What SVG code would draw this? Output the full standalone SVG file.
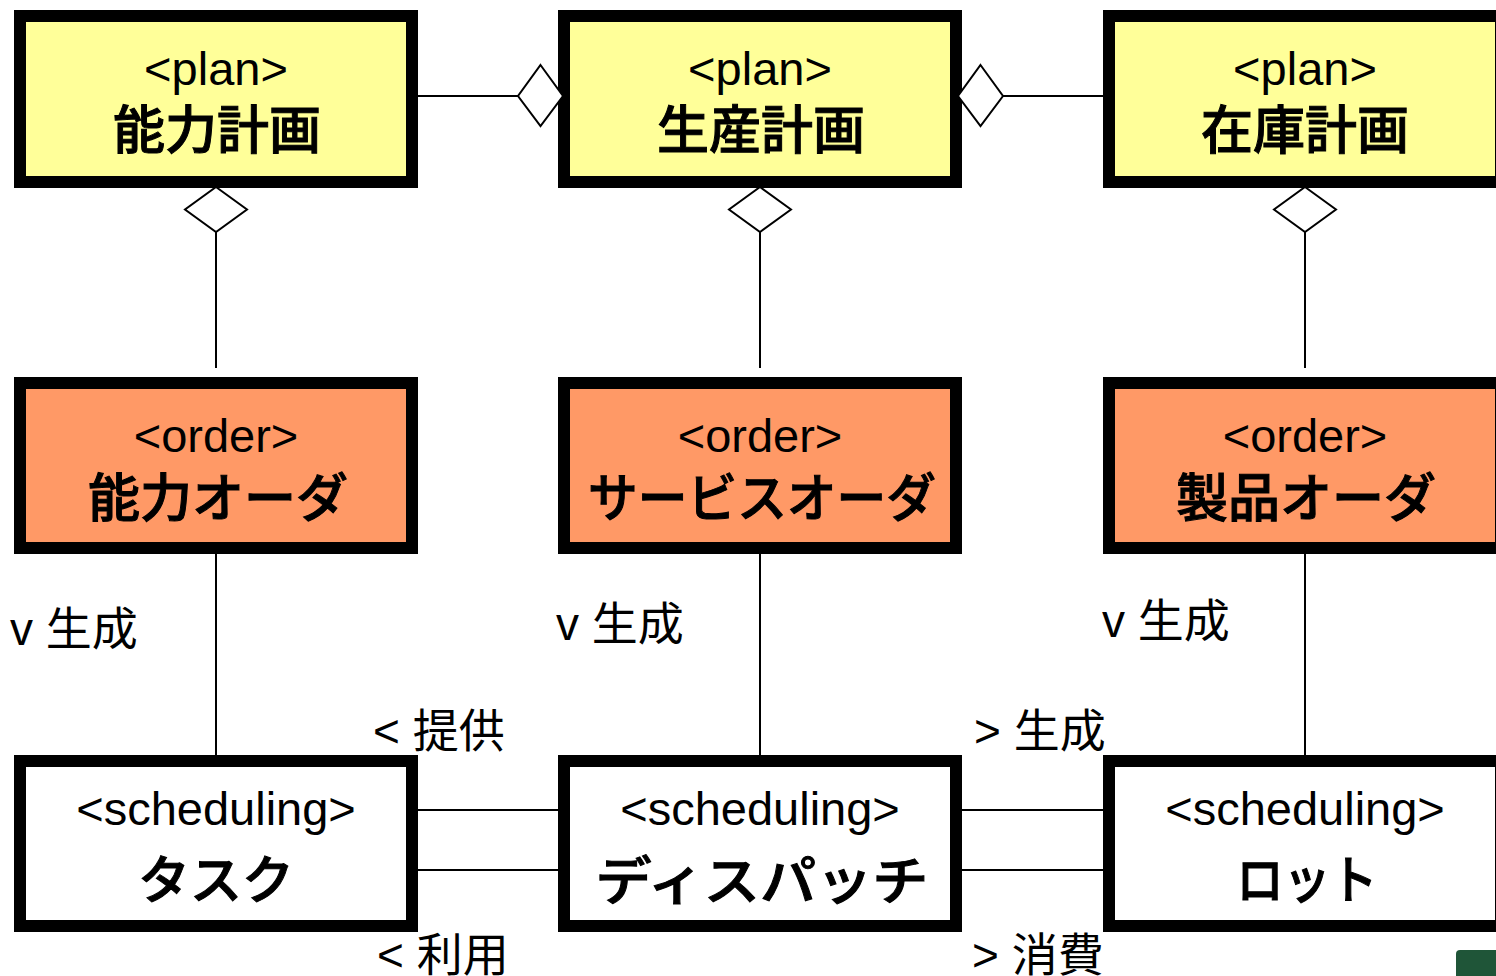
<svg xmlns="http://www.w3.org/2000/svg" width="1496" height="976" viewBox="0 0 1496 976">
<style>
.box{stroke:#000;stroke-width:12}
.plan{fill:#FFFF99}
.order{fill:#FF9966}
.sched{fill:#FFFFFF}
.st{font-family:"Liberation Sans","Noto Sans CJK JP",sans-serif;font-size:47px;fill:#000;text-anchor:middle}
.tt{font-family:"Noto Sans CJK JP","Liberation Sans",sans-serif;font-size:52px;font-weight:500;fill:#000;stroke:#000;stroke-width:1;text-anchor:middle}
.lb{font-family:"Liberation Sans","Noto Sans CJK JP",sans-serif;font-size:46px;fill:#000}
.ln{stroke:#000;stroke-width:2;fill:none}
.dm{stroke:#000;stroke-width:2;fill:#fff}
</style>
<g id="connectors">
<line class="ln" x1="418" y1="96" x2="519" y2="96"/>
<line class="ln" x1="1003" y1="96" x2="1104" y2="96"/>
<line class="ln" x1="216" y1="232" x2="216" y2="368"/>
<line class="ln" x1="760" y1="232" x2="760" y2="368"/>
<line class="ln" x1="1305" y1="232" x2="1305" y2="368"/>
<line class="ln" x1="216" y1="554" x2="216" y2="755"/>
<line class="ln" x1="760" y1="554" x2="760" y2="755"/>
<line class="ln" x1="1305" y1="554" x2="1305" y2="755"/>
<line class="ln" x1="418" y1="810" x2="559" y2="810"/>
<line class="ln" x1="418" y1="870" x2="559" y2="870"/>
<line class="ln" x1="962" y1="810" x2="1104" y2="810"/>
<line class="ln" x1="962" y1="870" x2="1104" y2="870"/>
<text class="lb" x="10" y="645">v 生成</text>
<text class="lb" x="556" y="640">v 生成</text>
<text class="lb" x="1102" y="637">v 生成</text>
<text class="lb" x="373" y="747">&lt; 提供</text>
<text class="lb" x="377" y="971">&lt; 利用</text>
<text class="lb" x="974" y="747">&gt; 生成</text>
<text class="lb" x="972" y="971">&gt; 消費</text>
</g>
<g id="node-nouryoku-keikaku">
<rect class="box plan" x="20" y="16" width="392" height="166"/>
<text class="st" x="216" y="85">&lt;plan&gt;</text>
<text class="tt" x="217" y="149">能力計画</text>
</g>
<g id="node-seisan-keikaku">
<rect class="box plan" x="564" y="16" width="392" height="166"/>
<text class="st" x="760" y="85">&lt;plan&gt;</text>
<text class="tt" x="761" y="149">生産計画</text>
</g>
<g id="node-zaiko-keikaku">
<rect class="box plan" x="1109" y="16" width="392" height="166"/>
<text class="st" x="1305" y="85">&lt;plan&gt;</text>
<text class="tt" x="1305" y="149">在庫計画</text>
</g>
<g id="diamonds">
<polygon class="dm" points="540.5,65 563,96 540.5,126 518,96"/>
<polygon class="dm" points="980.5,65 1003,96 980.5,126 958,96"/>
<polygon class="dm" points="216,187 247,209.5 216,232 185,209.5"/>
<polygon class="dm" points="760,187 791,209.5 760,232 729,209.5"/>
<polygon class="dm" points="1305,187 1336,209.5 1305,232 1274,209.5"/>
</g>
<g id="node-nouryoku-order">
<rect class="box order" x="20" y="383" width="392" height="165"/>
<text class="st" x="216" y="452">&lt;order&gt;</text>
<text class="tt" x="218" y="517">能力オーダ</text>
</g>
<g id="node-service-order">
<rect class="box order" x="564" y="383" width="392" height="165"/>
<text class="st" x="760" y="452">&lt;order&gt;</text>
<text class="tt" x="762" y="517" textLength="348" lengthAdjust="spacingAndGlyphs">サービスオーダ</text>
</g>
<g id="node-seihin-order">
<rect class="box order" x="1109" y="383" width="392" height="165"/>
<text class="st" x="1305" y="452">&lt;order&gt;</text>
<text class="tt" x="1306" y="517">製品オーダ</text>
</g>
<g id="node-task">
<rect class="box sched" x="20" y="761" width="392" height="165"/>
<text class="st" x="216" y="825">&lt;scheduling&gt;</text>
<text class="tt" x="216" y="899">タスク</text>
</g>
<g id="node-dispatch">
<rect class="box sched" x="564" y="761" width="392" height="165"/>
<text class="st" x="760" y="825">&lt;scheduling&gt;</text>
<text class="tt" x="762" y="900" font-size="55" textLength="333" lengthAdjust="spacingAndGlyphs">ディスパッチ</text>
</g>
<g id="node-lot">
<rect class="box sched" x="1109" y="761" width="392" height="165"/>
<text class="st" x="1305" y="825">&lt;scheduling&gt;</text>
<text class="tt" x="1307" y="899" textLength="141" lengthAdjust="spacingAndGlyphs">ロット</text>
</g>
<path d="M1460,950 L1496,950 L1496,976 L1456,976 L1456,954 Q1456,950 1460,950 Z" fill="#1F5538"/>
</svg>
